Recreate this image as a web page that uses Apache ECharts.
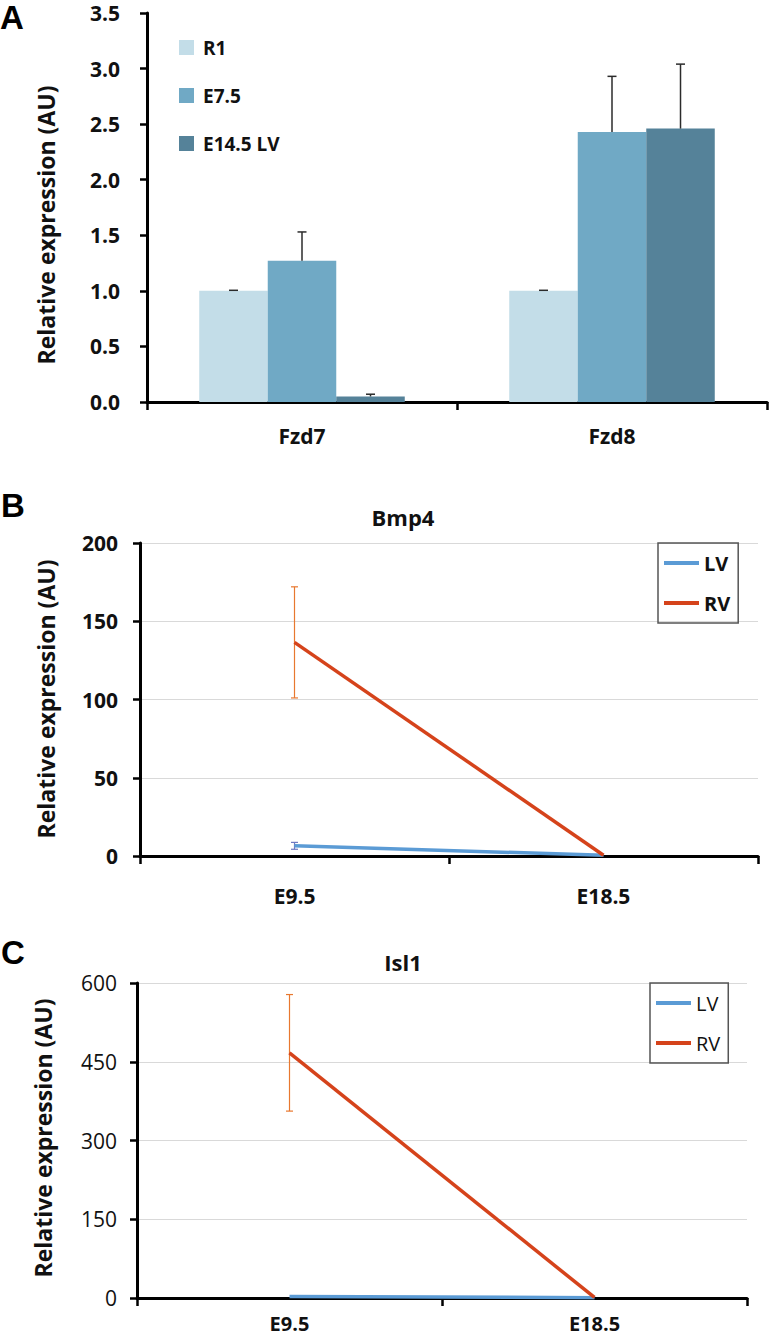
<!DOCTYPE html>
<html>
<head>
<meta charset="utf-8">
<script src="https://cdn.jsdelivr.net/npm/echarts@6/dist/echarts.min.js"></script>
<style>
html,body{margin:0;padding:0;background:#fff;}
#chart{width:769px;height:1339px;}
</style>
</head>
<body>
<div id="chart"></div>
<script>
// ---- Data ----
const barCategories = ['Fzd7', 'Fzd8'];
const barSeriesNames = ['R1', 'E7.5', 'E14.5 LV'];
const r1Values = [1.0, 1.0];
const r1Err = [0.005, 0.005];
const e75Values = [1.27, 2.43];
const e75Err = [0.26, 0.50];
const e145Values = [0.05, 2.46];
const e145Err = [0.02, 0.58];

const timeCategories = ['E9.5', 'E18.5'];
const bmp4LV = [6.5, 0.5];
const bmp4LVErr = [2.2, 0];
const bmp4RV = [136.5, 0.5];
const bmp4RVErr = [35.5, 0];
const isl1LV = [3, 0.5];
const isl1LVErr = [0, 0];
const isl1RV = [467, 1];
const isl1RVErr = [111, 0];

// ---- Styles ----
const barColors = ['#c3dde8', '#70a9c5', '#558299'];
const lvColor = '#5b9bd5';
const rvColor = '#d5431b';
const FONT = '"Open Sans", "Liberation Sans", sans-serif';
const GAP = 0.337;

const chart = echarts.init(document.getElementById('chart'), null, {renderer: 'svg'});

function barErrSeries(name, vals, errs, idx) {
  return {
    type: 'custom', name: name + ' err', xAxisIndex: 0, yAxisIndex: 0, z: 5,
    data: vals.map((v, i) => [i, v, errs[i]]),
    encode: {x: 0, y: 1},
    renderItem: function (params, api) {
      const c = api.value(0), v = api.value(1), e = api.value(2);
      const base = api.coord([c, v]);
      const top = api.coord([c, v + e]);
      const band = api.size([1, 0])[0];
      const bw = band * (1 - GAP) / 3;
      const x = base[0] + (idx - 1) * bw;
      const style = {stroke: '#2b2b2b', lineWidth: 1.5};
      return {type: 'group', children: [
        {type: 'line', shape: {x1: x, y1: base[1], x2: x, y2: top[1]}, style: style},
        {type: 'line', shape: {x1: x - 4.5, y1: top[1], x2: x + 4.5, y2: top[1]}, style: style}
      ]};
    }
  };
}

function lineErrSeries(vals, errs, color, xi) {
  return {
    type: 'custom', name: 'err', xAxisIndex: xi, yAxisIndex: xi, z: 1,
    data: vals.map((v, i) => [i, v, errs[i]]).filter(d => d[2] > 0),
    encode: {x: 0, y: 1},
    renderItem: function (params, api) {
      const c = api.value(0), v = api.value(1), e = api.value(2);
      const hi = api.coord([c, v + e]);
      const lo = api.coord([c, v - e]);
      const style = {stroke: color, lineWidth: 1.2};
      return {type: 'group', children: [
        {type: 'line', shape: {x1: hi[0], y1: hi[1], x2: lo[0], y2: lo[1]}, style: style},
        {type: 'line', shape: {x1: hi[0] - 3.5, y1: hi[1], x2: hi[0] + 3.5, y2: hi[1]}, style: style},
        {type: 'line', shape: {x1: lo[0] - 3.5, y1: lo[1], x2: lo[0] + 3.5, y2: lo[1]}, style: style}
      ]};
    }
  };
}

const axisLineStyle = {show: true, lineStyle: {color: '#000', width: 3}};
const tickStyle = {show: true, length: 7, lineStyle: {color: '#000', width: 2.5}};

function catAxis(gi, data, margin, size) {
  return {
    type: 'category', gridIndex: gi, data: data, boundaryGap: true,
    axisLine: axisLineStyle, axisTick: {show: true, length: 8, lineStyle: {color: '#000', width: 2.5}},
    axisLabel: {margin: margin, color: '#111', fontFamily: FONT, fontSize: size, fontWeight: 'bold'}
  };
}

function valAxis(gi, max, interval, margin, fmt, split, bold, size) {
  return {
    type: 'value', gridIndex: gi, min: 0, max: max, interval: interval,
    axisLine: axisLineStyle, axisTick: tickStyle,
    axisLabel: {margin: margin, color: '#111', fontFamily: FONT, fontSize: size,
      fontWeight: bold ? 'bold' : 'normal', formatter: fmt},
    splitLine: {show: split, lineStyle: {color: '#d9d9d9', width: 1.2}}
  };
}

function axisTitle(x, y) {
  return {type: 'text', x: x, y: y, rotation: Math.PI / 2,
    style: {text: 'Relative expression (AU)', fontFamily: FONT, fontSize: 23, fontWeight: 'bold',
      fill: '#111', align: 'center', verticalAlign: 'middle'}};
}
function panelLabel(t, x, y) {
  return {type: 'text', x: x, y: y,
    style: {text: t, fontFamily: '"Liberation Sans", Arial, sans-serif', fontSize: 33, fontWeight: 'bold',
      fill: '#000', align: 'left', verticalAlign: 'middle'}};
}
function chartTitle(t, x, y) {
  return {type: 'text', x: x, y: y,
    style: {text: t, fontFamily: FONT, fontSize: 22, fontWeight: 'bold',
      fill: '#111', align: 'center', verticalAlign: 'middle'}};
}

const option = {
  animation: false,
  backgroundColor: '#fff',
  grid: [
    {left: 147, top: 13, width: 620, height: 389},
    {left: 140, top: 543, width: 618, height: 313},
    {left: 137, top: 983, width: 610, height: 315}
  ],
  xAxis: [
    catAxis(0, barCategories, 23, 21),
    catAxis(1, timeCategories, 29, 21),
    catAxis(2, timeCategories, 15, 20)
  ],
  yAxis: [
    valAxis(0, 3.5, 0.5, 27, v => v.toFixed(1), false, true, 21),
    valAxis(1, 200, 50, 22, null, true, true, 21),
    valAxis(2, 600, 150, 20, null, true, false, 21)
  ],
  legend: [
    {data: barSeriesNames, orient: 'vertical', left: 174, top: 32, itemWidth: 15, itemHeight: 15,
      itemGap: 27, icon: 'rect',
      textStyle: {fontFamily: FONT, fontSize: 19, fontWeight: 'bold', color: '#111', padding: [0, 0, 0, 4], lineHeight: 21}},
    {data: ['LV', 'RV'], orient: 'vertical', left: 658, top: 543, icon: 'rect', itemWidth: 35, itemHeight: 4,
      itemGap: 16, padding: [8, 8, 8, 6], borderColor: '#555', borderWidth: 1.5,
      textStyle: {fontFamily: FONT, fontSize: 20, fontWeight: 'bold', color: '#111', lineHeight: 24}},
    {data: ['LV', 'RV'], orient: 'vertical', left: 650, top: 983, icon: 'rect', itemWidth: 35, itemHeight: 4,
      itemGap: 16, padding: [8, 8, 8, 6], borderColor: '#555', borderWidth: 1.5,
      textStyle: {fontFamily: FONT, fontSize: 20, fontWeight: 'normal', color: '#111', lineHeight: 24}}
  ],
  graphic: [
    panelLabel('A', 0, 17),
    panelLabel('B', 1, 505),
    panelLabel('C', 1, 952),
    axisTitle(46, 225),
    axisTitle(46, 699),
    axisTitle(43, 1138),
    chartTitle('Bmp4', 403, 517),
    chartTitle('Isl1', 403, 962)
  ],
  series: [
    {type: 'bar', name: 'R1', xAxisIndex: 0, yAxisIndex: 0, data: r1Values, barGap: '0%', barCategoryGap: (GAP * 100) + '%', itemStyle: {color: barColors[0]}},
    {type: 'bar', name: 'E7.5', xAxisIndex: 0, yAxisIndex: 0, data: e75Values, barGap: '0%', barCategoryGap: (GAP * 100) + '%', itemStyle: {color: barColors[1]}},
    {type: 'bar', name: 'E14.5 LV', xAxisIndex: 0, yAxisIndex: 0, data: e145Values, barGap: '0%', barCategoryGap: (GAP * 100) + '%', itemStyle: {color: barColors[2]}},
    barErrSeries('R1', r1Values, r1Err, 0),
    barErrSeries('E7.5', e75Values, e75Err, 1),
    barErrSeries('E14.5 LV', e145Values, e145Err, 2),

    lineErrSeries(bmp4RV, bmp4RVErr, '#e8782f', 1),
    lineErrSeries(bmp4LV, bmp4LVErr, '#6e79c2', 1),
    {type: 'line', name: 'LV', xAxisIndex: 1, yAxisIndex: 1, data: bmp4LV, showSymbol: false, z: 3,
      lineStyle: {color: lvColor, width: 3.5}, itemStyle: {color: lvColor}},
    {type: 'line', name: 'RV', xAxisIndex: 1, yAxisIndex: 1, data: bmp4RV, showSymbol: false, z: 4,
      lineStyle: {color: rvColor, width: 3.5}, itemStyle: {color: rvColor}},

    lineErrSeries(isl1RV, isl1RVErr, '#e8782f', 2),
    {type: 'line', name: 'LV', xAxisIndex: 2, yAxisIndex: 2, data: isl1LV, showSymbol: false, z: 3,
      lineStyle: {color: lvColor, width: 3.5}, itemStyle: {color: lvColor}},
    {type: 'line', name: 'RV', xAxisIndex: 2, yAxisIndex: 2, data: isl1RV, showSymbol: false, z: 4,
      lineStyle: {color: rvColor, width: 3.5}, itemStyle: {color: rvColor}}
  ]
};
chart.setOption(option);
</script>
</body>
</html>
